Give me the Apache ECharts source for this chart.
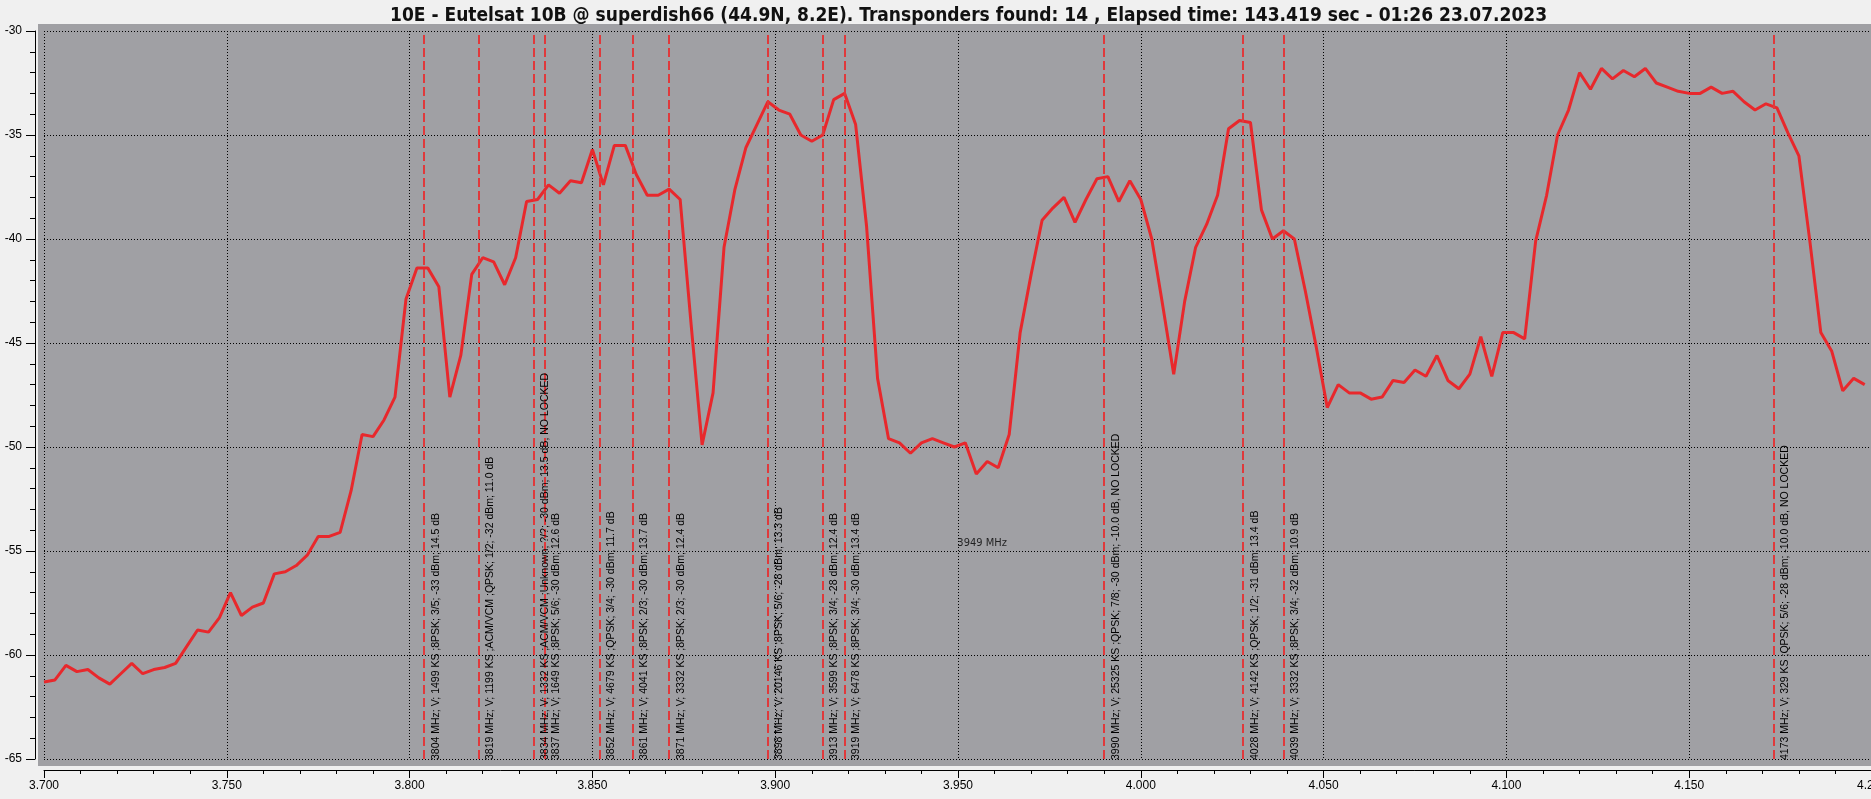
<!DOCTYPE html>
<html><head><meta charset="utf-8">
<script src="https://cdn.jsdelivr.net/npm/echarts@6/dist/echarts.min.js"></script>
<style>html,body{margin:0;padding:0;background:#f0f0f0;overflow:hidden}#c{width:1871px;height:799px}</style>
</head><body><div id="c"></div>
<script>
const TITLE = "10E - Eutelsat 10B @ superdish66 (44.9N, 8.2E). Transponders found: 14 , Elapsed time: 143.419 sec - 01:26 23.07.2023";

const freqMHz = [
  3700,3703,3706,3709,3712,3715,3718,3721,3724,3727,
  3730,3733,3736,3739,3742,3745,3748,3751,3754,3757,
  3760,3763,3766,3769,3772,3775,3778,3781,3784,3787,
  3790,3793,3796,3799,3802,3805,3808,3811,3814,3817,
  3820,3823,3826,3829,3832,3835,3838,3841,3844,3847,
  3850,3853,3856,3859,3862,3865,3868,3871,3874,3877,
  3880,3883,3886,3889,3892,3895,3898,3901,3904,3907,
  3910,3913,3916,3919,3922,3925,3928,3931,3934,3937,
  3940,3943,3946,3949,3952,3955,3958,3961,3964,3967,
  3970,3973,3976,3979,3982,3985,3988,3991,3994,3997,
  4000,4003,4006,4009,4012,4015,4018,4021,4024,4027,
  4030,4033,4036,4039,4042,4045,4048,4051,4054,4057,
  4060,4063,4066,4069,4072,4075,4078,4081,4084,4087,
  4090,4093,4096,4099,4102,4105,4108,4111,4114,4117,
  4120,4123,4126,4129,4132,4135,4138,4141,4144,4147,
  4150,4153,4156,4159,4162,4165,4168,4171,4174,4177,
  4180,4183,4186,4189,4192,4195,4198
];

const levelDbm = [
  -61.3,-61.2,-60.5,-60.8,-60.7,-61.1,-61.4,-60.9,-60.4,-60.9,
  -60.7,-60.6,-60.4,-59.6,-58.8,-58.9,-58.2,-57.0,-58.1,-57.7,
  -57.5,-56.1,-56.0,-55.7,-55.2,-54.3,-54.3,-54.1,-52.1,-49.4,
  -49.5,-48.7,-47.6,-42.9,-41.4,-41.4,-42.3,-47.6,-45.6,-41.7,
  -40.9,-41.1,-42.2,-40.9,-38.2,-38.1,-37.4,-37.8,-37.2,-37.3,
  -35.7,-37.4,-35.5,-35.5,-36.9,-37.9,-37.9,-37.6,-38.1,-44.1,
  -49.9,-47.4,-40.4,-37.6,-35.6,-34.5,-33.4,-33.8,-34.0,-35.0,
  -35.3,-35.0,-33.3,-33.0,-34.5,-39.4,-46.7,-49.6,-49.8,-50.3,
  -49.8,-49.6,-49.8,-50.0,-49.8,-51.3,-50.7,-51.0,-49.4,-44.5,
  -41.7,-39.1,-38.5,-38.0,-39.2,-38.1,-37.1,-37.0,-38.2,-37.2,
  -38.1,-40.0,-43.2,-46.5,-43.0,-40.4,-39.3,-37.9,-34.7,-34.3,
  -34.4,-38.6,-40.0,-39.6,-40.0,-42.5,-45.2,-48.1,-47.0,-47.4,
  -47.4,-47.7,-47.6,-46.8,-46.9,-46.3,-46.6,-45.6,-46.8,-47.2,
  -46.5,-44.7,-46.6,-44.5,-44.5,-44.8,-40.1,-37.9,-35.0,-33.8,
  -32.0,-32.8,-31.8,-32.3,-31.9,-32.2,-31.8,-32.5,-32.7,-32.9,
  -33.0,-33.0,-32.7,-33.0,-32.9,-33.4,-33.8,-33.5,-33.7,-34.9,
  -36.0,-40.1,-44.5,-45.4,-47.3,-46.7,-47.0
];

const transponderMHz = [3804,3819,3834,3837,3852,3861,3871,3898,3913,3919,3990,4028,4039,4173];
const transponderInfo = [
  "3804 MHz; V; 1499 KS ;8PSK; 3/5; -33 dBm; 14.5 dB",
  "3819 MHz; V; 1199 KS ;ACM/VCM ;QPSK; 1/2; -32 dBm; 11.0 dB",
  "3834 MHz; V; 1332 KS ;ACM/VCM ;Unknown; ?/?; -30 dBm; 13.5 dB, NO LOCKED",
  "3837 MHz; V; 1649 KS ;8PSK; 5/6; -30 dBm; 12.6 dB",
  "3852 MHz; V; 4679 KS ;QPSK; 3/4; -30 dBm; 11.7 dB",
  "3861 MHz; V; 4041 KS ;8PSK; 2/3; -30 dBm; 13.7 dB",
  "3871 MHz; V; 3332 KS ;8PSK; 2/3; -30 dBm; 12.4 dB",
  "3898 MHz; V; 20146 KS ;8PSK; 5/6; -28 dBm; 13.3 dB",
  "3913 MHz; V; 3599 KS ;8PSK; 3/4; -28 dBm; 12.4 dB",
  "3919 MHz; V; 6478 KS ;8PSK; 3/4; -30 dBm; 13.4 dB",
  "3990 MHz; V; 25325 KS ;QPSK; 7/8; -30 dBm; -10.0 dB, NO LOCKED",
  "4028 MHz; V; 4142 KS ;QPSK; 1/2; -31 dBm; 13.4 dB",
  "4039 MHz; V; 3332 KS ;8PSK; 3/4; -32 dBm; 10.9 dB",
  "4173 MHz; V; 329 KS ;QPSK; 5/6; -28 dBm; -10.0 dB, NO LOCKED"
];

const cursorMHz = 3949;
const cursorLevel = -54.6;
const cursorLabel = "3949 MHz";

const X_MIN = 3700, X_MAX = 4200, X_STEP = 50;
const Y_MIN = -65, Y_MAX = -30, Y_STEP = 5;

const chart = echarts.init(document.getElementById('c'), null, {renderer: 'canvas'});
chart.setOption({
  backgroundColor: '#f0f0f0',
  animation: false,
  title: {
    text: TITLE, left: 385, top: 2,
    textStyle: {fontFamily: 'DejaVu Sans Condensed', fontWeight: 'bold', fontSize: 19, color: '#111'}
  },
  graphic: [{
    type: 'rect', z: -100, silent: true,
    shape: {x: 38, y: 24, width: 1833, height: 742},
    style: {fill: '#a0a0a4'}
  }],
  grid: {left: 44, top: 31, width: 1828, height: 728, show: false, containLabel: false, outerBoundsMode: 'none'},
  xAxis: {
    type: 'value', min: X_MIN, max: X_MAX, interval: X_STEP, offset: 11,
    axisLine: {show: true, onZero: false, lineStyle: {color: '#000', width: 1}},
    axisTick: {show: true, length: 8, lineStyle: {color: '#000'}},
    minorTick: {show: true, splitNumber: 5, length: 4, lineStyle: {color: '#000'}},
    axisLabel: {formatter: v => (v / 1000).toFixed(3), fontFamily: 'Liberation Sans', fontSize: 12, color: '#000', margin: 10, showMaxLabel: true, showMinLabel: true},
    splitLine: {show: true, lineStyle: {color: '#000', type: [1, 2], width: 1}}
  },
  yAxis: {
    type: 'value', min: Y_MIN, max: Y_MAX, interval: Y_STEP, offset: 9,
    axisLine: {show: true, onZero: false, lineStyle: {color: '#000', width: 1}},
    axisTick: {show: true, length: 9, lineStyle: {color: '#000'}},
    minorTick: {show: true, splitNumber: 5, length: 5, lineStyle: {color: '#000'}},
    axisLabel: {fontFamily: 'Liberation Sans', fontSize: 12, color: '#000', margin: 13},
    splitLine: {show: true, lineStyle: {color: '#000', type: [1, 2], width: 1}}
  },
  series: [
    {
      type: 'line', z: 4,
      data: freqMHz.map((f, i) => [f, levelDbm[i]]),
      showSymbol: false, symbol: 'none',
      lineStyle: {color: '#e8282c', width: 3},
      markLine: {
        silent: true, symbol: 'none', animation: false,
        label: {show: false},
        lineStyle: {color: '#e0393b', type: [9, 4], width: 2},
        data: transponderMHz.map(f => ({xAxis: f}))
      }
    },
    {
      type: 'custom', z: 6, silent: true,
      data: transponderMHz.map(f => [f, Y_MIN]),
      renderItem: (params, api) => {
        const p = api.coord([api.value(0), api.value(1)]);
        return {
          type: 'text', x: p[0] + 6, y: p[1] + 1, rotation: Math.PI / 2,
          style: {
            text: transponderInfo[params.dataIndex], fill: '#000',
            fontFamily: 'Liberation Sans', fontSize: 10.5,
            align: 'left', verticalAlign: 'top'
          }
        };
      }
    },
    {
      type: 'scatter', z: 6, silent: true,
      data: [[cursorMHz, cursorLevel]],
      symbolSize: 0, itemStyle: {color: 'transparent'},
      label: {show: true, position: 'right', distance: 3, formatter: cursorLabel,
        fontFamily: 'DejaVu Sans Condensed', fontSize: 11, color: '#000'}
    }
  ]
});
</script>
</body></html>
